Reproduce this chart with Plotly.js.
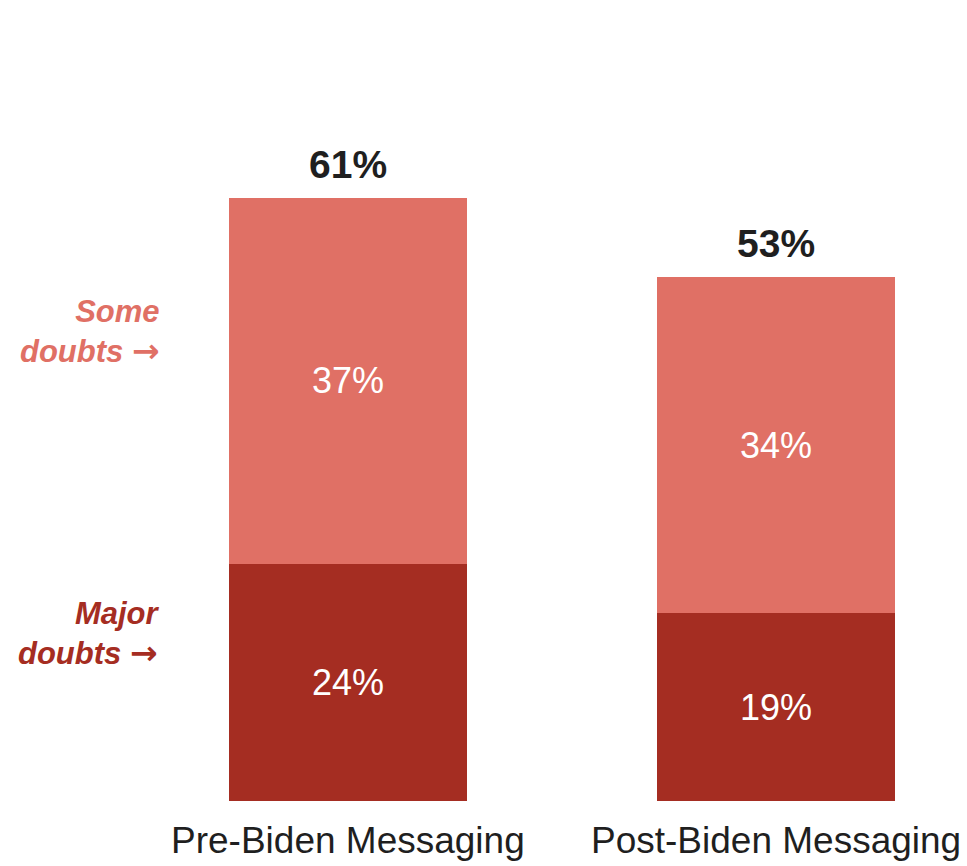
<!DOCTYPE html>
<html>
<head>
<meta charset="utf-8">
<script src="https://cdn.plot.ly/plotly-3.0.1.min.js"></script>
<style>html,body{margin:0;padding:0;background:#fff;}#chart{width:967px;height:866px;}</style>
</head>
<body>
<div id="chart"></div>
<script>
const categories = ["Pre-Biden Messaging", "Post-Biden Messaging"];
const majorDoubts = [24, 19];
const someDoubts = [37, 34];
const totals = [61, 53];
const seriesNames = ["Major doubts", "Some doubts"];

const xPos = categories.map((c, i) => i);
const fontFam = "Liberation Sans, Arial, sans-serif";

const traces = [
  {
    type: "bar", x: xPos, y: majorDoubts, name: seriesNames[0],
    marker: {color: "#A52D22", line: {color: "#A52D22", width: 1}},
    width: 0.556,
    text: majorDoubts.map(v => v + "%"), textposition: "inside", insidetextanchor: "middle",
    textfont: {family: fontFam, size: 36, color: "#ffffff"},
    hoverinfo: "skip"
  },
  {
    type: "bar", x: xPos, y: someDoubts, name: seriesNames[1],
    marker: {color: "#E07065", line: {width: 0}},
    width: 0.556,
    text: someDoubts.map(v => v + "%"), textposition: "inside", insidetextanchor: "middle",
    textfont: {family: fontFam, size: 36, color: "#ffffff"},
    hoverinfo: "skip"
  }
];

const arrow = "<span style=\"font-family:'DejaVu Sans';font-size:33px;font-style:normal;font-weight:bold\">→</span>";
const annotations = [];
totals.forEach((t, i) => {
  annotations.push({
    x: xPos[i], y: t, xref: "x", yref: "y", yanchor: "bottom", yshift: 10,
    text: "<b>" + t + "%</b>", showarrow: false,
    font: {family: fontFam, size: 39, color: "#1f1f1f"}
  });
  annotations.push({
    x: xPos[i], y: 0, xref: "x", yref: "y", yanchor: "top", yshift: -17,
    text: categories[i], showarrow: false,
    font: {family: fontFam, size: 37, color: "#1f1f1f"}
  });
});
annotations.push({
  x: -0.435, y: 47.4, xref: "x", yref: "y", xanchor: "right", yanchor: "middle", align: "right",
  text: "<b><i>" + seriesNames[1].replace(" ", "<br>") + " " + arrow + "</i></b>", showarrow: false,
  font: {family: fontFam, size: 31, color: "#E07065"}
});
annotations.push({
  x: -0.435, y: 16.9, xref: "x", yref: "y", xanchor: "right", yanchor: "middle", align: "right",
  text: "<b><i>" + seriesNames[0].replace(" ", "<br>") + " " + arrow + "</i></b>", showarrow: false,
  font: {family: fontFam, size: 31, color: "#A52D22"}
});

const layout = {
  width: 967, height: 866,
  margin: {l: 0, r: 0, t: 0, b: 65, pad: 0},
  barmode: "stack",
  showlegend: false,
  paper_bgcolor: "#ffffff", plot_bgcolor: "#ffffff",
  xaxis: {range: [-0.8131, 1.4463], showticklabels: false, showgrid: false, zeroline: false, showline: false, ticks: "", fixedrange: true},
  yaxis: {range: [0, 81.03], showticklabels: false, showgrid: false, zeroline: false, showline: false, ticks: "", fixedrange: true},
  annotations: annotations,
  font: {family: fontFam}
};

Plotly.newPlot("chart", traces, layout, {displayModeBar: false, staticPlot: true});
</script>
</body>
</html>
